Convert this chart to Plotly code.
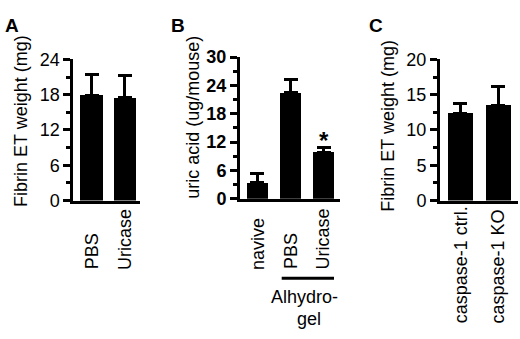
import plotly.graph_objects as go

# ---- data ----
a_cats = ["PBS", "Uricase"]
a_mean = [17.9, 17.5]
a_err = [3.6, 3.8]

b_cats = ["navive", "PBS", "Uricase"]
b_mean = [3.4, 22.4, 9.8]
b_err = [2.0, 2.9, 1.0]

c_cats = ["caspase-1 ctrl.", "caspase-1 KO"]
c_mean = [12.4, 13.5]
c_err = [1.3, 2.6]

W, H = 520, 339
FONT = "Liberation Sans, Arial, Helvetica, sans-serif"


def px_x(p):
    return p / W


def px_y(p):
    return 1 - p / H


fig = go.Figure()


def add_bars(cats, mean, err, xa, ya, width):
    fig.add_trace(go.Bar(
        x=cats, y=mean, xaxis=xa, yaxis=ya, width=width,
        marker=dict(color="black", line=dict(width=0)),
        error_y=dict(type="data", array=err, arrayminus=[0] * len(err), symmetric=False,
                     color="black", thickness=3, width=7),
        showlegend=False, hoverinfo="skip",
    ))


add_bars(a_cats, a_mean, a_err, "x", "y", 0.67)
add_bars(b_cats, b_mean, b_err, "x2", "y2", 0.66)
add_bars(c_cats, c_mean, c_err, "x3", "y3", 0.65)


def xaxis_cfg(dom, rng):
    return dict(domain=[px_x(dom[0]), px_x(dom[1])], range=rng, type="category",
                showline=True, linewidth=3, linecolor="black", ticks="",
                showticklabels=False, showgrid=False, zeroline=False, fixedrange=True)


def yaxis_cfg(dom, rng, dtick, mdtick, anchor, bold=False):
    return dict(domain=[px_y(dom[1]), px_y(dom[0])], range=rng, anchor=anchor,
                showline=True, linewidth=3, linecolor="black",
                ticks="outside", ticklen=7, tickwidth=3, tickcolor="black",
                dtick=dtick, tick0=0,
                minor=dict(ticks="outside", ticklen=4, tickwidth=3, tickcolor="black", dtick=mdtick, tick0=0),
                tickfont=dict(family=FONT, size=18, color="black", weight="bold" if bold else "normal"),
                showgrid=False, zeroline=False, fixedrange=True)


fig.update_layout(
    width=W, height=H, margin=dict(l=0, r=0, t=0, b=0),
    paper_bgcolor="white", plot_bgcolor="white", bargap=0,
    xaxis=dict(xaxis_cfg((73.3, 140), [-0.55, 1.45]), anchor="y"),
    yaxis=yaxis_cfg((52.5, 202.5), [0, 24], 6, 3, "x"),
    xaxis2=dict(xaxis_cfg((240, 340), [-0.53, 2.5]), anchor="y2"),
    yaxis2=yaxis_cfg((50, 200.5), [0, 30], 6, 3, "x2", bold=True),
    xaxis3=dict(xaxis_cfg((440, 518), [-0.54, 1.52]), anchor="y3"),
    yaxis3=yaxis_cfg((52.5, 202.5), [0, 20], 5, 2.5, "x3"),
)

ann = []


def paper_text(text, x, y, size, angle=0, bold=False, xanchor="center", yanchor="middle"):
    ann.append(dict(text=text, x=px_x(x), y=px_y(y), xref="paper", yref="paper",
                    showarrow=False, textangle=angle, xanchor=xanchor, yanchor=yanchor,
                    font=dict(family=FONT, size=size, color="black", weight="bold" if bold else "normal")))


# panel letters
paper_text("A", 12, 16, 19, bold=True)
paper_text("B", 178, 16, 19, bold=True)
paper_text("C", 376, 16, 19, bold=True)

# axis titles
paper_text("Fibrin ET weight (mg)", 21, 118, 18, angle=-90)
paper_text("uric acid (ug/mouse)", 193, 114.5, 18, angle=-90)
paper_text("Fibrin ET weight (mg)", 388, 123, 18, angle=-90)


# category labels (rotated, bottom-aligned like the original)
def cat_labels(cats, xref, ybottom):
    for c in cats:
        ann.append(dict(text=c, x=c, xref=xref, y=px_y(ybottom), yref="paper",
                        showarrow=False, textangle=-90, xanchor="center", yanchor="bottom",
                        font=dict(family=FONT, size=18, color="black")))


cat_labels(a_cats, "x", 278)
cat_labels(b_cats, "x2", 278)
cat_labels(c_cats, "x3", 335)

# group label
paper_text("Alhydro-", 304, 305, 18)
paper_text("gel", 309, 328, 18)

# significance marker
ann.append(dict(text="*", x="Uricase", xref="x2", y=b_mean[2] + b_err[2], yref="y2",
                showarrow=False, yanchor="bottom", yshift=-8,
                font=dict(family=FONT, size=24, color="black", weight="bold")))

fig.update_layout(annotations=ann)
fig.add_shape(type="line", xref="paper", yref="paper",
              x0=px_x(281.7), x1=px_x(334), y0=px_y(285), y1=px_y(285),
              line=dict(color="black", width=3))

fig.write_html("out.html", config={"displayModeBar": False, "staticPlot": True},
               post_script="document.body.style.margin='0';")
